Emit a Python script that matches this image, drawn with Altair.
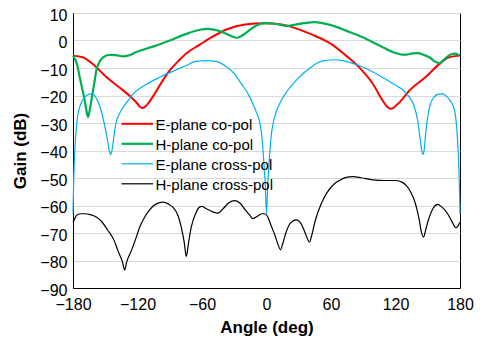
import altair as alt
import pandas as pd

series_names = ["E-plane co-pol", "H-plane co-pol", "E-plane cross-pol", "H-plane cross-pol"]
series_colors = ["#FF0000", "#00B050", "#00B0F0", "#000000"]
series_widths = [2.0, 2.2, 1.2, 1.2]

e_co_angle = [-180, -171, -160, -149, -137, -126, -120, -117.5, -115.5, -113.5, -111, -106, -98, -90, -82, -75, -62, -51, -36, -20, -2, 14, 26, 42, 60, 74, 86, 99, 108, 112, 114, 116, 118, 120, 124, 133, 148, 161, 170, 180]
e_co_gain = [-5.5, -6.1, -9.1, -13.3, -17, -20.6, -23, -24.2, -24.5, -24.2, -23.3, -20.6, -15.5, -10.9, -7.5, -4.8, -1.5, 1.2, 4.2, 5.8, 6.3, 5.8, 4.6, 2.2, -1.2, -5.5, -9.7, -15.8, -21.8, -24, -24.6, -24.8, -24.5, -23.8, -22.4, -18.2, -13.3, -8.5, -6.1, -5.5]

h_co_angle = [-180, -176, -173.8, -169.1, -167, -166, -165, -162.9, -160, -158.3, -155, -152, -146, -140, -133.5, -128, -121, -102.5, -90, -74.6, -62, -54.5, -45, -36, -30, -27, -24, -20.4, -11, -2, 7.5, 14, 20, 27, 35, 44.6, 52, 60, 74, 89.5, 105, 120.6, 126, 130, 136, 141, 146, 151.5, 157, 161, 165, 168.5, 172, 176, 178, 180]
h_co_gain = [-5.5, -9, -13.3, -21.8, -26.5, -27.9, -26.5, -21.8, -15, -10.9, -7.5, -6.1, -5.2, -5.3, -5.8, -5.4, -4.2, -1.8, 0, 2.4, 3.9, 4.2, 3.6, 2.2, 1.2, 1.0, 1.5, 2.4, 5.1, 6.3, 6.1, 5.6, 5.3, 5.8, 6.3, 6.7, 6.3, 5.6, 3.6, 1.2, -1.8, -4.6, -5.1, -5.1, -4.7, -4.6, -5.2, -6.1, -7.7, -8.2, -7, -5.8, -5, -4.8, -5.1, -5.5]

e_x_angle = [-180, -179.3, -178, -176.5, -174, -170, -165, -162, -159, -155, -151, -148, -146, -145, -144, -142, -140, -136.6, -130, -124, -112, -99, -86, -74.6, -66, -56, -48, -37, -30, -23.5, -17, -12.7, -9, -6.5, -4, -2.5, -1.2, 0, 1.2, 2.5, 4, 6.5, 9, 13.7, 20, 26, 34, 41.6, 48, 54, 63, 71, 86, 105, 120.6, 127, 132.9, 137, 140.6, 143, 144.6, 145.6, 146.6, 148, 151.5, 155, 160, 164, 168, 171, 174.7, 177, 178.5, 179.4, 180]
e_x_gain = [-63, -50, -38, -30, -24.5, -21, -19.5, -19.4, -20.5, -24, -30, -36, -40.5, -41.5, -40.5, -35, -30, -26.5, -22.5, -19.4, -16, -13.3, -11, -9.1, -7.6, -7.3, -7.5, -9.6, -12, -15.7, -19.5, -23, -26.5, -29.5, -36, -44, -52, -63, -52, -44, -36, -29.5, -26, -21.8, -18, -15.2, -12, -9.7, -8, -7.3, -7, -7.3, -9.1, -12.7, -16.4, -18, -20.6, -23.5, -29, -36, -40.5, -41.5, -40, -34, -24.5, -21, -19.5, -19.4, -20.5, -22, -25, -32, -42, -52, -63]

h_x_angle = [-180, -178, -176.8, -173, -169, -164, -158.3, -153, -147.5, -142, -138.2, -134, -132, -130, -125.7, -122, -118, -113, -108.7, -103, -96.4, -91, -87.1, -82, -79.3, -76.5, -74.6, -72.5, -70, -66, -62, -60, -56, -50, -45.2, -40, -35, -29.7, -25, -20, -15, -12.7, -8, -4, -1.8, 1, 4, 8, 11, 13, 15, 18, 22, 27.6, 32, 36, 40, 42, 45, 50.9, 56, 63.2, 67.9, 74, 80.2, 88, 98.8, 110, 120.6, 126, 129.9, 134, 137.6, 140, 142.2, 144, 146.2, 148, 150, 151.5, 155, 159.2, 163, 168.5, 172, 176.3, 178, 180]
h_x_gain = [-66.1, -64.5, -63.6, -63, -63, -63.3, -64.2, -66, -69.1, -72.5, -76.4, -80.5, -83.4, -80.5, -76.4, -72.5, -67.9, -64, -61.6, -59.5, -58.8, -59.5, -60.6, -64, -67.9, -73.5, -78.5, -73.5, -67.9, -63, -60.5, -60.3, -61.2, -62.3, -62.8, -61, -59, -58.2, -59, -61.5, -63.8, -64.8, -63.8, -63, -63, -64, -67, -71, -74.5, -76.1, -74, -70, -66.5, -65.2, -66.5, -70, -73.3, -71, -66, -59.4, -55.5, -52.1, -50.9, -49.8, -49.5, -49.9, -50.7, -50.9, -50.9, -51.5, -52.7, -55, -58.2, -61.5, -65.5, -69.5, -71.5, -69, -66, -64.2, -61, -59.6, -60.5, -63, -65.5, -68.1, -67.5, -66.1]

x_ticks = [-180, -120, -60, 0, 60, 120, 180]
y_ticks = [-90, -80, -70, -60, -50, -40, -30, -20, -10, 0, 10]

frames = []
for name, ang, g in [
    (series_names[0], e_co_angle, e_co_gain),
    (series_names[1], h_co_angle, h_co_gain),
    (series_names[2], e_x_angle, e_x_gain),
    (series_names[3], h_x_angle, h_x_gain),
]:
    frames.append(pd.DataFrame({"angle": ang, "gain": g, "series": name, "order": range(len(ang))}))
df = pd.concat(frames, ignore_index=True)
legend_df = pd.DataFrame({"series": series_names, "rank": list(range(len(series_names)))})

font = "Liberation Sans"
color_enc = alt.Color("series:N", scale=alt.Scale(domain=series_names, range=series_colors), legend=None)
width_enc = alt.StrokeWidth("series:N", scale=alt.Scale(type="ordinal", domain=series_names, range=series_widths), legend=None)

lines = alt.Chart(df).mark_line(interpolate="monotone").encode(
    x=alt.X("angle:Q", scale=alt.Scale(domain=[-180, 180], nice=False),
            axis=alt.Axis(values=x_ticks, title="Angle (deg)", grid=False, ticks=False,
                          labelFlush=False, labelOverlap=False,
                          labelFontSize=16, labelPadding=8, titleFontSize=17, titleFontWeight="bold",
                          titlePadding=7, domainColor="black", labelColor="black", titleColor="black",
                          labelFont=font, titleFont=font)),
    y=alt.Y("gain:Q", scale=alt.Scale(domain=[-90, 10], nice=False),
            axis=alt.Axis(values=y_ticks, title="Gain (dB)", grid=True, gridColor="#D9D9D9", ticks=False,
                          labelFlush=False, labelOverlap=False, labelOffset=2,
                          labelFontSize=16, labelPadding=6, titleFontSize=17, titleFontWeight="bold",
                          titlePadding=10, domainColor="black", labelColor="black", titleColor="black",
                          labelFont=font, titleFont=font)),
    color=color_enc,
    strokeWidth=width_enc,
    order="order:Q",
)

legend_y = alt.Y("rank:Q", scale=alt.Scale(domain=[0, 3], range=[110.8, 170.8]), axis=None)

legend_rules = alt.Chart(legend_df).mark_rule().encode(
    x=alt.value(48.5), x2=alt.value(80), y=legend_y, color=color_enc, strokeWidth=width_enc,
)
legend_text = alt.Chart(legend_df).mark_text(
    align="left", baseline="middle", fontSize=15, font=font, color="black", dx=0, dy=1
).encode(
    x=alt.value(82.5), y=legend_y, text="series:N",
)

chart = alt.layer(lines, legend_rules, legend_text).resolve_scale(y="independent").properties(
    width=387, height=275,
    autosize=alt.AutoSizeParams(type="none"),
    padding={"left": 65, "top": 5, "right": 15, "bottom": 50},
).configure_view(stroke="black", strokeWidth=1)

chart.save("out.html", embed_options={"renderer": "svg", "actions": False})
